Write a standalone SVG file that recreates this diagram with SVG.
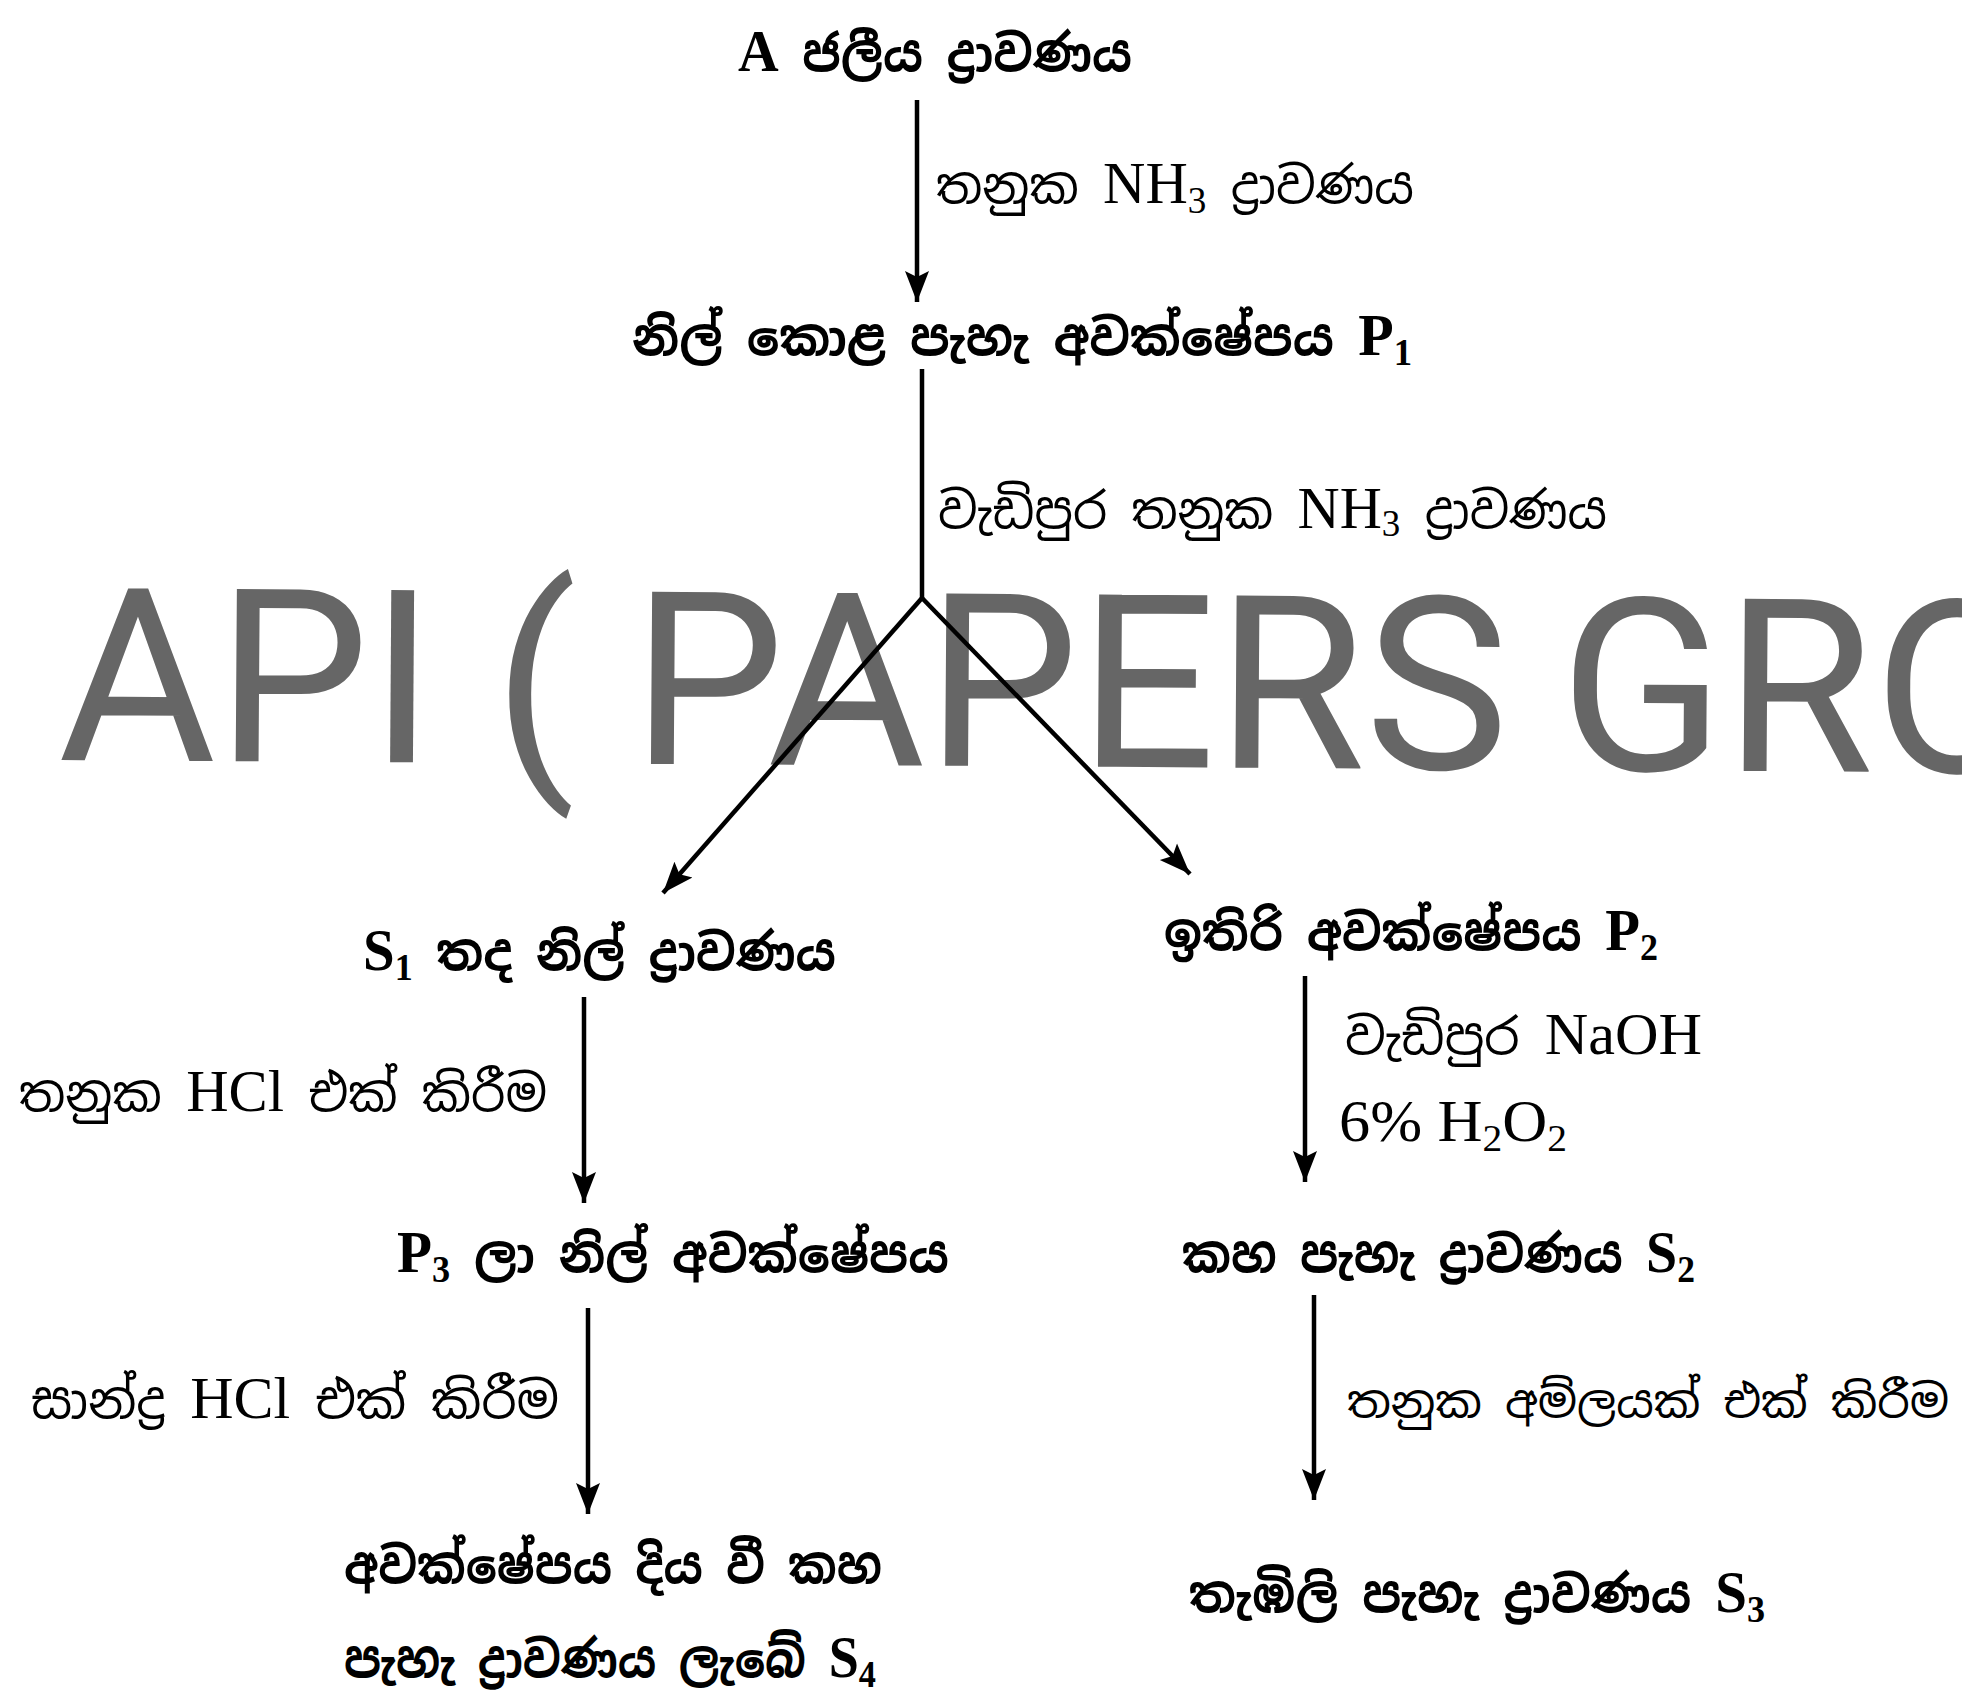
<svg xmlns="http://www.w3.org/2000/svg" width="1962" height="1694" viewBox="0 0 1962 1694">
<style>
text{font-family:"Noto Sans Sinhala","Noto Serif Sinhala","Iskoola Pota","Liberation Serif",serif;fill:#000;}
.n{font-size:50px;font-weight:bold;}
.l{font-size:50px;}
.lat{font-family:"Liberation Serif",serif;font-size:60px;}
.sub{font-family:"Liberation Serif",serif;font-size:38px;}
.wm{font-family:Roboto,sans-serif;font-size:242px;fill:#666;}
.c{stroke:#000;stroke-width:4.5;fill:none;}
</style>
<defs>
<marker id="ah" markerUnits="userSpaceOnUse" markerWidth="34" markerHeight="28" refX="31" refY="13" orient="auto">
<path d="M0,1 L31,13 L0,25 L6,13 z" fill="#000"/>
</marker>
</defs>
<rect width="1962" height="1694" fill="#fff"/>
<g id="watermark" transform="rotate(0.37 60 760)">
<text class="wm" y="760"><tspan x="58">API</tspan><tspan x="493">(</tspan><tspan x="631">PAPERS</tspan><tspan x="1559">GROUP )</tspan></text>
</g>
<g id="connectors">
<line class="c" x1="917" y1="100" x2="917" y2="302" marker-end="url(#ah)"/>
<line class="c" x1="922" y1="369" x2="922" y2="598"/>
<line class="c" x1="922" y1="598" x2="663" y2="893" marker-end="url(#ah)"/>
<line class="c" x1="922" y1="598" x2="1190" y2="874" marker-end="url(#ah)"/>
<line class="c" x1="584" y1="997" x2="584" y2="1203" marker-end="url(#ah)"/>
<line class="c" x1="588" y1="1308" x2="588" y2="1514" marker-end="url(#ah)"/>
<line class="c" x1="1305" y1="976" x2="1305" y2="1182" marker-end="url(#ah)"/>
<line class="c" x1="1314" y1="1295" x2="1314" y2="1500" marker-end="url(#ah)"/>
<text class="l" x="936" y="203" textLength="478" lengthAdjust="spacingAndGlyphs">තනුක <tspan class="lat">NH</tspan><tspan class="sub" dy="10">3</tspan><tspan dy="-10"> ද්&#x200D;රාවණය</tspan></text>
<text class="l" x="938" y="528" textLength="669" lengthAdjust="spacingAndGlyphs">වැඩිපුර තනුක <tspan class="lat">NH</tspan><tspan class="sub" dy="8">3</tspan><tspan dy="-8"> ද්&#x200D;රාවණය</tspan></text>
<text class="l" x="19" y="1111" textLength="528" lengthAdjust="spacingAndGlyphs">තනුක <tspan class="lat">HCl</tspan>  එක් කිරීම</text>
<text class="l" x="31" y="1418" textLength="528" lengthAdjust="spacingAndGlyphs">සාන්ද්&#x200D;ර <tspan class="lat">HCl</tspan>  එක් කිරීම</text>
<text class="l" x="1345" y="1054" textLength="357" lengthAdjust="spacingAndGlyphs">වැඩිපුර <tspan class="lat">NaOH</tspan></text>
<text class="l" x="1339" y="1141" textLength="228" lengthAdjust="spacingAndGlyphs"><tspan class="lat">6% H</tspan><tspan class="sub" dy="10">2</tspan><tspan class="lat" dy="-10">O</tspan><tspan class="sub" dy="10">2</tspan></text>
<text class="l" x="1347" y="1418" style="font-size:45px" textLength="602" lengthAdjust="spacingAndGlyphs">තනුක අම්ලයක් එක් කිරීම</text>
</g>
<g id="n-a"><text class="n" x="738" y="71" textLength="394" lengthAdjust="spacingAndGlyphs"><tspan class="lat" font-weight="bold">A</tspan> ජලීය ද්&#x200D;රාවණය</text></g>
<g id="n-p1"><text class="n" x="632" y="355" textLength="780" lengthAdjust="spacingAndGlyphs">නිල් කොළ පැහැ අවක්ෂේපය <tspan class="lat" font-weight="bold">P</tspan><tspan class="sub" font-weight="bold" dy="10">1</tspan></text></g>
<g id="n-s1"><text class="n" x="363" y="970" textLength="473" lengthAdjust="spacingAndGlyphs"><tspan class="lat" font-weight="bold">S</tspan><tspan class="sub" font-weight="bold" dy="10">1</tspan><tspan dy="-10"> තද නිල් ද්&#x200D;රාවණය</tspan></text></g>
<g id="n-p2"><text class="n" x="1164" y="950" textLength="494" lengthAdjust="spacingAndGlyphs">ඉතිරි අවක්ෂේපය <tspan class="lat" font-weight="bold">P</tspan><tspan class="sub" font-weight="bold" dy="10">2</tspan></text></g>
<g id="n-p3"><text class="n" x="397" y="1272" textLength="552" lengthAdjust="spacingAndGlyphs"><tspan class="lat" font-weight="bold">P</tspan><tspan class="sub" font-weight="bold" dy="10">3</tspan><tspan dy="-10"> ලා නිල් අවක්ෂේපය</tspan></text></g>
<g id="n-s4"><text class="n" x="344" y="1583" textLength="538" lengthAdjust="spacingAndGlyphs">අවක්ෂේපය දිය වී කහ</text><text class="n" x="344" y="1677" textLength="532" lengthAdjust="spacingAndGlyphs">පැහැ ද්&#x200D;රාවණය ලැබේ <tspan class="lat" font-weight="bold">S</tspan><tspan class="sub" font-weight="bold" dy="10">4</tspan></text></g>
<g id="n-s2"><text class="n" x="1182" y="1272" textLength="513" lengthAdjust="spacingAndGlyphs">කහ පැහැ ද්&#x200D;රාවණය <tspan class="lat" font-weight="bold">S</tspan><tspan class="sub" font-weight="bold" dy="10">2</tspan></text></g>
<g id="n-s3"><text class="n" x="1189" y="1612" textLength="576" lengthAdjust="spacingAndGlyphs">තැඹිලි පැහැ ද්&#x200D;රාවණය <tspan class="lat" font-weight="bold">S</tspan><tspan class="sub" font-weight="bold" dy="10">3</tspan></text></g>
</svg>
